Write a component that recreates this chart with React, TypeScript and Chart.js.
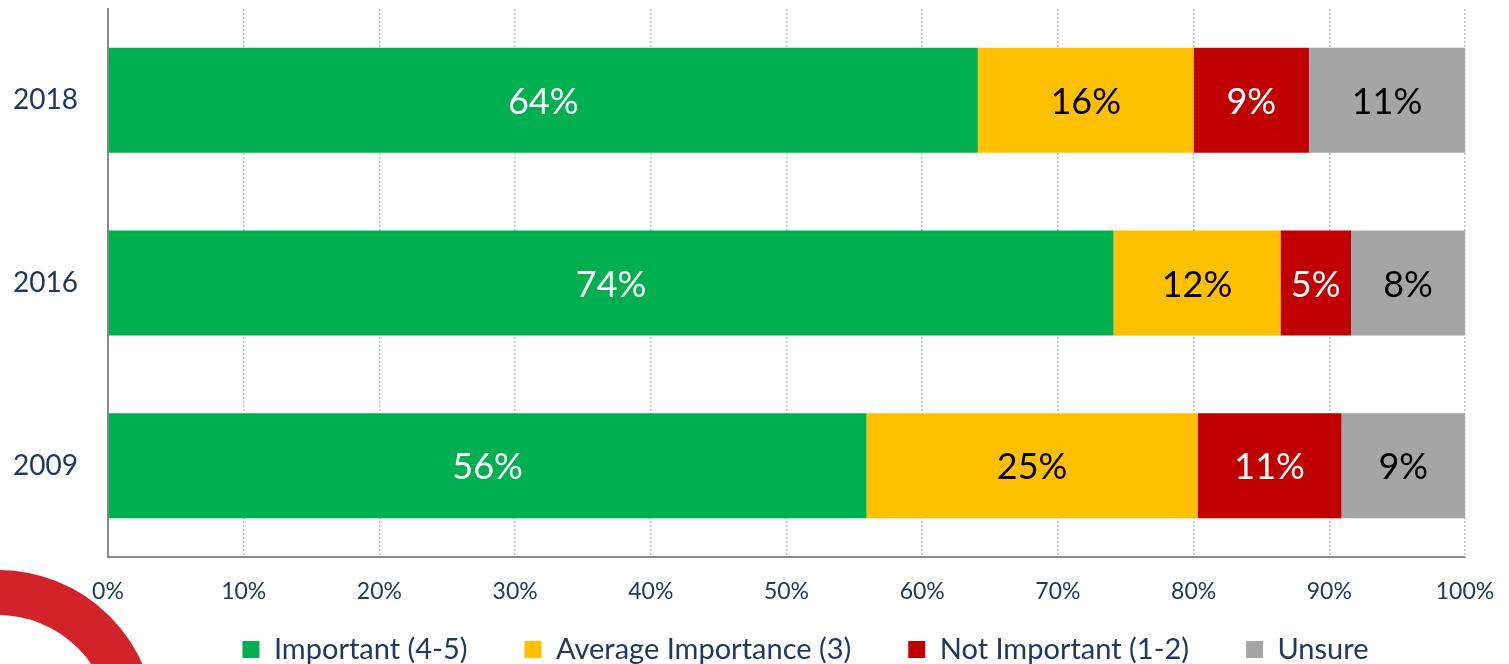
import React, { useEffect, useRef } from "react";
import { Chart, registerables } from "chart.js";

Chart.register(...registerables);

// ---- data ----
const years = ["2018", "2016", "2009"];
const seriesNames = ["Important (4-5)", "Average Importance (3)", "Not Important (1-2)", "Unsure"];
const important = [64.1, 74.1, 55.9];
const average = [15.9, 12.3, 24.4];
const notImportant = [8.5, 5.2, 10.6];
const unsure = [11.5, 8.4, 9.1];
const importantLabels = ["64%", "74%", "56%"];
const averageLabels = ["16%", "12%", "25%"];
const notImportantLabels = ["9%", "5%", "11%"];
const unsureLabels = ["11%", "8%", "9%"];

// ---- styles ----
const seriesColors = ["#00B050", "#FFC000", "#C00000", "#A5A5A5"];
const labelColors = ["#FFFFFF", "#000000", "#FFFFFF", "#000000"];
const navy = "#1F3864";
const FONT = "Lato, 'Open Sans', sans-serif";

const barLabelPlugin = {
  id: "barLabels",
  afterDatasetsDraw(chart: any) {
    const ctx = chart.ctx;
    chart.data.datasets.forEach((ds: any, di: number) => {
      const meta = chart.getDatasetMeta(di);
      meta.data.forEach((el: any, i: number) => {
        const p = el.getProps(["x", "y", "base"], true);
        ctx.save();
        ctx.font = `36px ${FONT}`;
        ctx.fillStyle = ds.labelColor;
        ctx.textAlign = "center";
        ctx.textBaseline = "middle";
        ctx.fillText(ds.valueLabels[i], (p.x + p.base) / 2, p.y + 2);
        ctx.restore();
      });
    });
  },
};

// place the legend row under the plot like the original slide
const legendPlacePlugin = {
  id: "legendPlace",
  afterLayout(chart: any) {
    const lg = chart.legend;
    if (!lg) return;
    lg.left = 146;
    lg.right = chart.chartArea.right;
    lg.width = lg.right - lg.left;
    lg.top = 578;
    lg.bottom = chart.height;
    lg.height = lg.bottom - lg.top;
  },
};

export default function App() {
  const ref = useRef<HTMLCanvasElement>(null);

  useEffect(() => {
    if (!ref.current) return;
    const values = [important, average, notImportant, unsure];
    const labels = [importantLabels, averageLabels, notImportantLabels, unsureLabels];
    const chart = new Chart(ref.current, {
      type: "bar",
      data: {
        labels: years,
        datasets: seriesNames.map((name, i) => ({
          label: name,
          data: values[i],
          backgroundColor: seriesColors[i],
          borderWidth: 0,
          barPercentage: 0.575,
          categoryPercentage: 1,
          labelColor: labelColors[i],
          valueLabels: labels[i],
        })) as any,
      },
      options: {
        indexAxis: "y",
        responsive: false,
        animation: false,
        layout: { padding: { top: 9, right: 44, left: 0, bottom: 0 } },
        plugins: {
          tooltip: { enabled: false },
          legend: {
            position: "bottom",
            maxHeight: 52,
            labels: {
              boxWidth: 17,
              boxHeight: 17,
              padding: 57,
              color: navy,
              font: { family: FONT, size: 29 },
            },
          },
        },
        scales: {
          x: {
            stacked: true,
            min: 0,
            max: 100,
            ticks: {
              stepSize: 10,
              callback: (v: any) => v + "%",
              color: navy,
              font: { family: FONT, size: 23 },
              padding: 21,
              maxRotation: 0,
              autoSkip: false,
            },
            grid: { color: "#BFBFBF", lineWidth: 1.5, drawTicks: false },
            border: { display: true, color: "#898989", width: 2, dash: [2, 2] },
            afterFit: (s: any) => {
              s.height = 55;
              s.paddingLeft = 0;
              s.paddingRight = 0;
            },
          },
          y: {
            stacked: true,
            ticks: { color: navy, font: { family: FONT, size: 28 }, padding: 30 },
            grid: { display: false, drawTicks: false },
            border: { display: true, color: "#898989", width: 2 },
            afterFit: (s: any) => {
              s.width = 108;
              s.paddingTop = 0;
              s.paddingBottom = 0;
            },
          },
        },
      } as any,
      plugins: [barLabelPlugin, legendPlacePlugin],
    });
    return () => chart.destroy();
  }, []);

  return (
    <div
      style={{
        position: "absolute",
        left: 0,
        top: 0,
        width: 1509,
        height: 664,
        overflow: "hidden",
        background: "#FFFFFF",
      }}
    >
      <canvas ref={ref} width={1509} height={664} style={{ display: "block" }} />
      <div
        style={{
          position: "absolute",
          left: -160,
          top: 570,
          width: 316,
          height: 316,
          boxSizing: "border-box",
          border: "45px solid #D2232A",
          borderRadius: "50%",
        }}
      />
    </div>
  );
}
